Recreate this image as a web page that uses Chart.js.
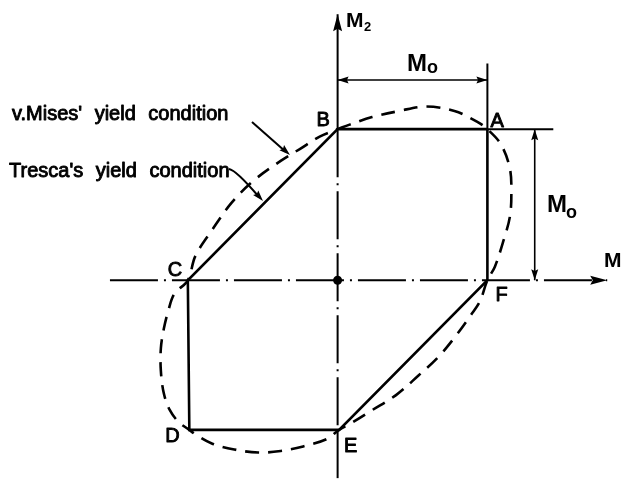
<!DOCTYPE html>
<html><head><meta charset="utf-8">
<script src="https://cdn.jsdelivr.net/npm/chart.js@4"></script>
<style>html,body{margin:0;padding:0;background:#fff}#wrap{width:624px;height:483px;position:relative}</style>
</head><body><div id="wrap"><canvas id="c"></canvas></div>
<script>
// v. Mises yield condition (dashed curve), in units of M0
const misesX = [0, 0.08, 0.23, 0.41, 0.59, 0.78, 0.93, 1, 1.09, 1.15, 1.16, 1.15, 1.11, 1.05, 1, 0.95, 0.89, 0.78, 0.67, 0.54, 0.39, 0.23, 0.10, 0.01, -0.07, -0.23, -0.38, -0.53, -0.69, -0.84, -0.95, -0.99, -1.06, -1.12, -1.16, -1.18, -1.18, -1.16, -1.13, -1.09, -1, -0.95, -0.84, -0.71, -0.56, -0.38, -0.25, -0.12, 0];
const misesY = [1, 1.03, 1.08, 1.12, 1.15, 1.12, 1.05, 1, 0.90, 0.74, 0.57, 0.42, 0.27, 0.09, 0, -0.14, -0.23, -0.38, -0.51, -0.63, -0.76, -0.86, -0.94, -0.99, -1.05, -1.10, -1.13, -1.14, -1.12, -1.08, -1.02, -0.99, -0.94, -0.86, -0.75, -0.60, -0.45, -0.32, -0.20, -0.09, 0, 0.16, 0.33, 0.51, 0.66, 0.79, 0.87, 0.95, 1];
// Tresca's yield condition (hexagon A B C D E F)
const trescaX = [1, 0, -1, -0.99, 0.01, 1, 1];
const trescaY = [1, 1, 0, -0.99, -0.99, 0, 1];
const vertexLabels = ['A', 'B', 'C', 'D', 'E', 'F'];
// axes extents (M1 horizontal, M2 vertical)
const axisM1 = [-1.52, 1.80];
const axisM2 = [-1.31, 1.76];
const M0 = 1;
const dimTopLevel = 1.325;   // height of upper M0 dimension line
const dimRightPos = 1.316;   // position of right M0 dimension line
const extTop = 1.435;
const extRight = 1.44;
const labelMises = "v.Mises' yield condition";
const labelTresca = "Tresca's yield condition";

const pts = (xs, ys) => xs.map((x, i) => ({x, y: ys[i]}));

const dashDot = [48, 6, 2, 6];
const datasets = [
  {data: pts(misesX, misesY), borderColor: '#000', borderWidth: 2.6, borderDash: [14, 9], tension: 0.35, pointRadius: 0, showLine: true, fill: false},
  {data: pts(trescaX, trescaY), borderColor: '#000', borderWidth: 2.6, tension: 0, pointRadius: 0, showLine: true, fill: false},
  {data: [{x: axisM1[0], y: 0}, {x: axisM1[1], y: 0}], borderColor: '#000', borderWidth: 2, borderDash: dashDot, pointRadius: 0, showLine: true},
  {data: [{x: 0, y: 1}, {x: 0, y: -0.99}], borderColor: '#000', borderWidth: 2, borderDash: dashDot, pointRadius: 0, showLine: true},
  {data: [{x: 0, y: axisM2[1]}, {x: 0, y: 1}], borderColor: '#000', borderWidth: 2, pointRadius: 0, showLine: true},
  {data: [{x: 0, y: -0.99}, {x: 0, y: axisM2[0]}], borderColor: '#000', borderWidth: 2, pointRadius: 0, showLine: true},
  {data: [{x: 0, y: 0}], pointRadius: 4.5, pointBackgroundColor: '#000', pointBorderWidth: 0, showLine: false},
  // dimension lines
  {data: [{x: 0, y: dimTopLevel}, {x: M0, y: dimTopLevel}], borderColor: '#000', borderWidth: 1.6, pointRadius: 0, showLine: true},
  {data: [{x: M0, y: 1}, {x: M0, y: extTop}], borderColor: '#000', borderWidth: 2, pointRadius: 0, showLine: true},
  {data: [{x: 1, y: M0}, {x: extRight, y: M0}], borderColor: '#000', borderWidth: 2, pointRadius: 0, showLine: true},
  {data: [{x: dimRightPos, y: 0}, {x: dimRightPos, y: M0}], borderColor: '#000', borderWidth: 1.6, pointRadius: 0, showLine: true}
];

function arrow(ctx, x, y, dx, dy, len, hw) {
  const l = Math.hypot(dx, dy); const ux = dx / l, uy = dy / l;
  ctx.beginPath();
  ctx.moveTo(x, y);
  ctx.lineTo(x - ux * len - uy * hw, y - uy * len + ux * hw);
  ctx.lineTo(x - ux * len * 0.85, y - uy * len * 0.85);
  ctx.lineTo(x - ux * len + uy * hw, y - uy * len - ux * hw);
  ctx.closePath(); ctx.fill();
}

function heavyText(ctx, t, x, y, maxW) {
  if (maxW) { ctx.fillText(t, x, y, maxW); ctx.strokeText(t, x, y, maxW); }
  else { ctx.fillText(t, x, y); ctx.strokeText(t, x, y); }
}

const annot = {
  id: 'annot',
  afterDatasetsDraw(chart) {
    const ctx = chart.ctx, sx = chart.scales.x, sy = chart.scales.y;
    const X = v => sx.getPixelForValue(v), Y = v => sy.getPixelForValue(v);
    ctx.save();
    ctx.fillStyle = '#000'; ctx.strokeStyle = '#000'; ctx.setLineDash([]);
    // axis arrows
    arrow(ctx, X(axisM1[1]), Y(0), 1, 0, 17, 4.5);
    arrow(ctx, X(0), Y(axisM2[1]), 0, -1, 17, 4.5);
    // dimension arrows
    arrow(ctx, X(0), Y(dimTopLevel), -1, 0, 11, 3.5);
    arrow(ctx, X(M0), Y(dimTopLevel), 1, 0, 11, 3.5);
    arrow(ctx, X(dimRightPos), Y(M0), 0, -1, 11, 3.5);
    arrow(ctx, X(dimRightPos), Y(0), 0, 1, 11, 3.5);
    // label pointer arrows
    ctx.lineWidth = 2;
    ctx.beginPath(); ctx.moveTo(252, 122); ctx.lineTo(286, 152); ctx.stroke();
    arrow(ctx, 290, 155, 34, 30, 11, 3.5);
    ctx.beginPath(); ctx.moveTo(229, 169); ctx.quadraticCurveTo(236, 170, 259, 197); ctx.stroke();
    arrow(ctx, 263, 201, 24, 27, 11, 3.5);
    // text
    ctx.textBaseline = 'alphabetic'; ctx.textAlign = 'left';
    ctx.lineWidth = 0.9; ctx.lineJoin = 'round';
    ctx.font = "20px 'Liberation Sans'";
    if ('wordSpacing' in ctx) ctx.wordSpacing = '7px';
    heavyText(ctx, labelMises, 12, 120, 226);
    heavyText(ctx, labelTresca, 9, 177, 221);
    if ('wordSpacing' in ctx) ctx.wordSpacing = '0px';
    // vertex labels
    const off = [[3, -2], [-21, -3], [-20, -4], [-24, 12], [5, 22], [8, 21]];
    ctx.font = "20px 'Liberation Sans'";
    vertexLabels.forEach((t, i) => {
      heavyText(ctx, t, X(trescaX[i]) + off[i][0], Y(trescaY[i]) + off[i][1]);
    });
    // axis and dimension names
    ctx.font = "bold 24px 'Liberation Sans'";
    ctx.fillText('M', 407, 71);
    ctx.fillText('M', 547, 212);
    ctx.font = "bold 18px 'Liberation Sans'";
    ctx.fillText('o', 427, 73);
    ctx.fillText('o', 566, 218);
    ctx.font = "bold 21px 'Liberation Sans'";
    ctx.fillText('M', 346, 27);
    ctx.fillText('M', 604, 267);
    ctx.font = "bold 13px 'Liberation Sans'";
    ctx.fillText('2', 364, 31);
    ctx.restore();
  }
};

new Chart(document.getElementById('c'), {
  type: 'scatter',
  data: {datasets},
  options: {
    responsive: true, maintainAspectRatio: false, animation: false,
    layout: {padding: 0},
    plugins: {legend: {display: false}, tooltip: {enabled: false}},
    scales: {
      x: {type: 'linear', min: -2.224, max: 1.882, display: false},
      y: {type: 'linear', min: -1.312, max: 1.825, display: false}
    }
  },
  plugins: [annot]
});
</script>
</body></html>
